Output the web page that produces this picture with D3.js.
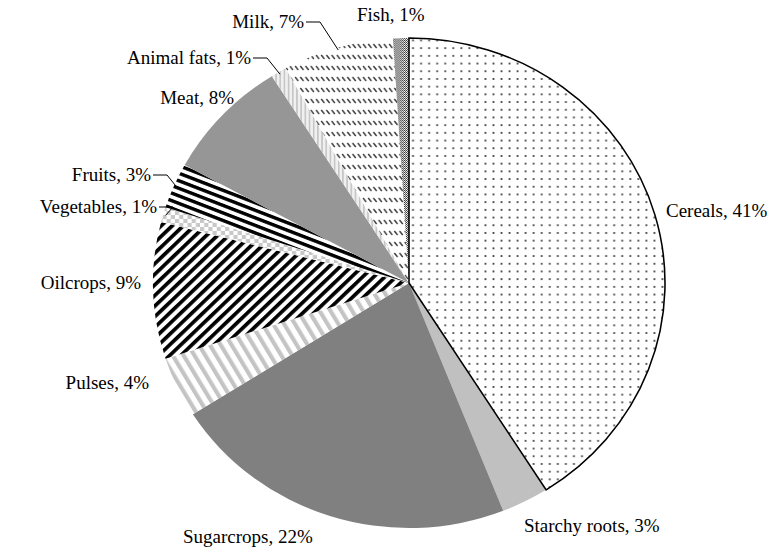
<!DOCTYPE html>
<html>
<head>
<meta charset="utf-8">
<script src="https://cdn.jsdelivr.net/npm/d3@7"></script>
<style>
  html, body { margin: 0; padding: 0; background: #fff; }
  svg { display: block; }
  text { font-family: "Liberation Serif", "Times New Roman", serif; font-size: 19px; fill: #000; }
</style>
</head>
<body>
<svg id="chart" width="771" height="549"></svg>
<script>
// Food groups and their share (%)
const categories = ["Cereals", "Starchy roots", "Sugarcrops", "Pulses", "Oilcrops",
                    "Vegetables", "Fruits", "Meat", "Animal fats", "Milk", "Fish"];
const shares = [41, 3, 22, 4, 9, 1, 3, 8, 1, 7, 1];

// Fill style key per slice (defined as SVG patterns / colours below)
const fills = ["dots", "#c0c0c0", "#808080", "pulses", "oil", "checkLight",
               "fruits", "#969696", "fats", "milk", "checkDark"];

// Label placement: [x, y, text-anchor, leader?]
const labelLayout = [
  [666, 217, "start", false],
  [524, 532, "start", false],
  [183, 543, "start", false],
  [149, 389, "end", false],
  [141, 289, "end", false],
  [157, 213, "end", true],
  [151, 181, "end", true],
  [234, 104, "end", false],
  [251, 64, "end", true],
  [304, 28, "end", true],
  [357, 21, "start", false]
];

const svg = d3.select("#chart");
const cx = 409, cy = 283, ry = 245, rx = 256;
const defs = svg.append("defs");

// dotted fill
const pDots = defs.append("pattern").attr("id", "dots")
  .attr("patternUnits", "userSpaceOnUse").attr("width", 7.7).attr("height", 7.7);
pDots.append("rect").attr("width", 7.7).attr("height", 7.7).attr("fill", "#fff");
pDots.append("rect").attr("x", 3).attr("y", 3).attr("width", 1.7).attr("height", 1.7).attr("fill", "#333");

// wide light-grey diagonal
const pPul = defs.append("pattern").attr("id", "pulses")
  .attr("patternUnits", "userSpaceOnUse").attr("width", 9).attr("height", 9)
  .attr("patternTransform", "rotate(-30)");
pPul.append("rect").attr("width", 9).attr("height", 9).attr("fill", "#fff");
pPul.append("rect").attr("width", 4).attr("height", 9).attr("fill", "#c4c4c4");

// black/white diagonal
const pOil = defs.append("pattern").attr("id", "oil")
  .attr("patternUnits", "userSpaceOnUse").attr("width", 7.5).attr("height", 7.5)
  .attr("patternTransform", "rotate(45)");
pOil.append("rect").attr("width", 7.5).attr("height", 7.5).attr("fill", "#fff");
pOil.append("rect").attr("width", 3.6).attr("height", 7.5).attr("fill", "#000");

// light checker
const pChk = defs.append("pattern").attr("id", "checkLight")
  .attr("patternUnits", "userSpaceOnUse").attr("width", 8).attr("height", 8);
pChk.append("rect").attr("width", 8).attr("height", 8).attr("fill", "#fff");
pChk.append("rect").attr("width", 4).attr("height", 4).attr("fill", "#c8c8c8");
pChk.append("rect").attr("x", 4).attr("y", 4).attr("width", 4).attr("height", 4).attr("fill", "#c8c8c8");

// shallow black stripes
const pFr = defs.append("pattern").attr("id", "fruits")
  .attr("patternUnits", "userSpaceOnUse").attr("width", 7).attr("height", 7)
  .attr("patternTransform", "rotate(22)");
pFr.append("rect").attr("width", 7).attr("height", 7).attr("fill", "#fff");
pFr.append("rect").attr("width", 7).attr("height", 3.4).attr("fill", "#000");

// light fill for animal fats
const pFat = defs.append("pattern").attr("id", "fats")
  .attr("patternUnits", "userSpaceOnUse").attr("width", 4).attr("height", 4);
pFat.append("rect").attr("width", 4).attr("height", 4).attr("fill", "#f0f0f0");
pFat.append("rect").attr("width", 1.5).attr("height", 4).attr("fill", "#c4c4c4");

// rows of short downward-diagonal dashes
const pMilk = defs.append("pattern").attr("id", "milk")
  .attr("patternUnits", "userSpaceOnUse").attr("width", 5).attr("height", 11);
pMilk.append("rect").attr("width", 5).attr("height", 11).attr("fill", "#fff");
pMilk.append("line").attr("x1", 1).attr("y1", 3).attr("x2", 4).attr("y2", 7)
  .attr("stroke", "#3a3a3a").attr("stroke-width", 1.3);

// dark fine checker
const pDk = defs.append("pattern").attr("id", "checkDark")
  .attr("patternUnits", "userSpaceOnUse").attr("width", 2).attr("height", 2);
pDk.append("rect").attr("width", 2).attr("height", 2).attr("fill", "#fff");
pDk.append("rect").attr("width", 1).attr("height", 1).attr("fill", "#333");
pDk.append("rect").attr("x", 1).attr("y", 1).attr("width", 1).attr("height", 1).attr("fill", "#333");

const data = categories.map((c, i) => ({ name: c, value: shares[i], fill: fills[i], layout: labelLayout[i] }));
const pie = d3.pie().value(d => d.value).sort(null);
const arcs = pie(data);
const arc = d3.arc().innerRadius(0).outerRadius(ry);

const g = svg.append("g").attr("transform", `translate(${cx},${cy}) scale(${rx / ry},1)`);
g.selectAll("path.slice").data(arcs).enter().append("path")
  .attr("class", "slice")
  .attr("d", arc)
  .attr("fill", d => d.data.fill.startsWith("#") ? d.data.fill : `url(#${d.data.fill})`)
  .attr("stroke", "none");
// black border around the first slice
g.append("path").attr("d", arc(arcs[0])).attr("fill", "none").attr("stroke", "#000").attr("stroke-width", 1.5);

// labels
const lab = svg.append("g");
arcs.forEach(a => {
  const [lx, ly, anchor, leader] = a.data.layout;
  lab.append("text").attr("x", lx).attr("y", ly).attr("text-anchor", anchor)
    .text(`${a.data.name}, ${a.data.value}%`);
  if (leader) {
    const mid = (a.startAngle + a.endAngle) / 2;
    const px = cx + rx * 0.99 * Math.sin(mid);
    const py = cy - ry * 0.99 * Math.cos(mid);
    const sx = lx + 2, sy = ly - 6;
    const kx = sx + 14;
    lab.append("polyline")
      .attr("points", `${sx},${sy} ${kx},${sy} ${px},${py}`)
      .attr("fill", "none").attr("stroke", "#000").attr("stroke-width", 1);
  }
});
</script>
</body>
</html>
